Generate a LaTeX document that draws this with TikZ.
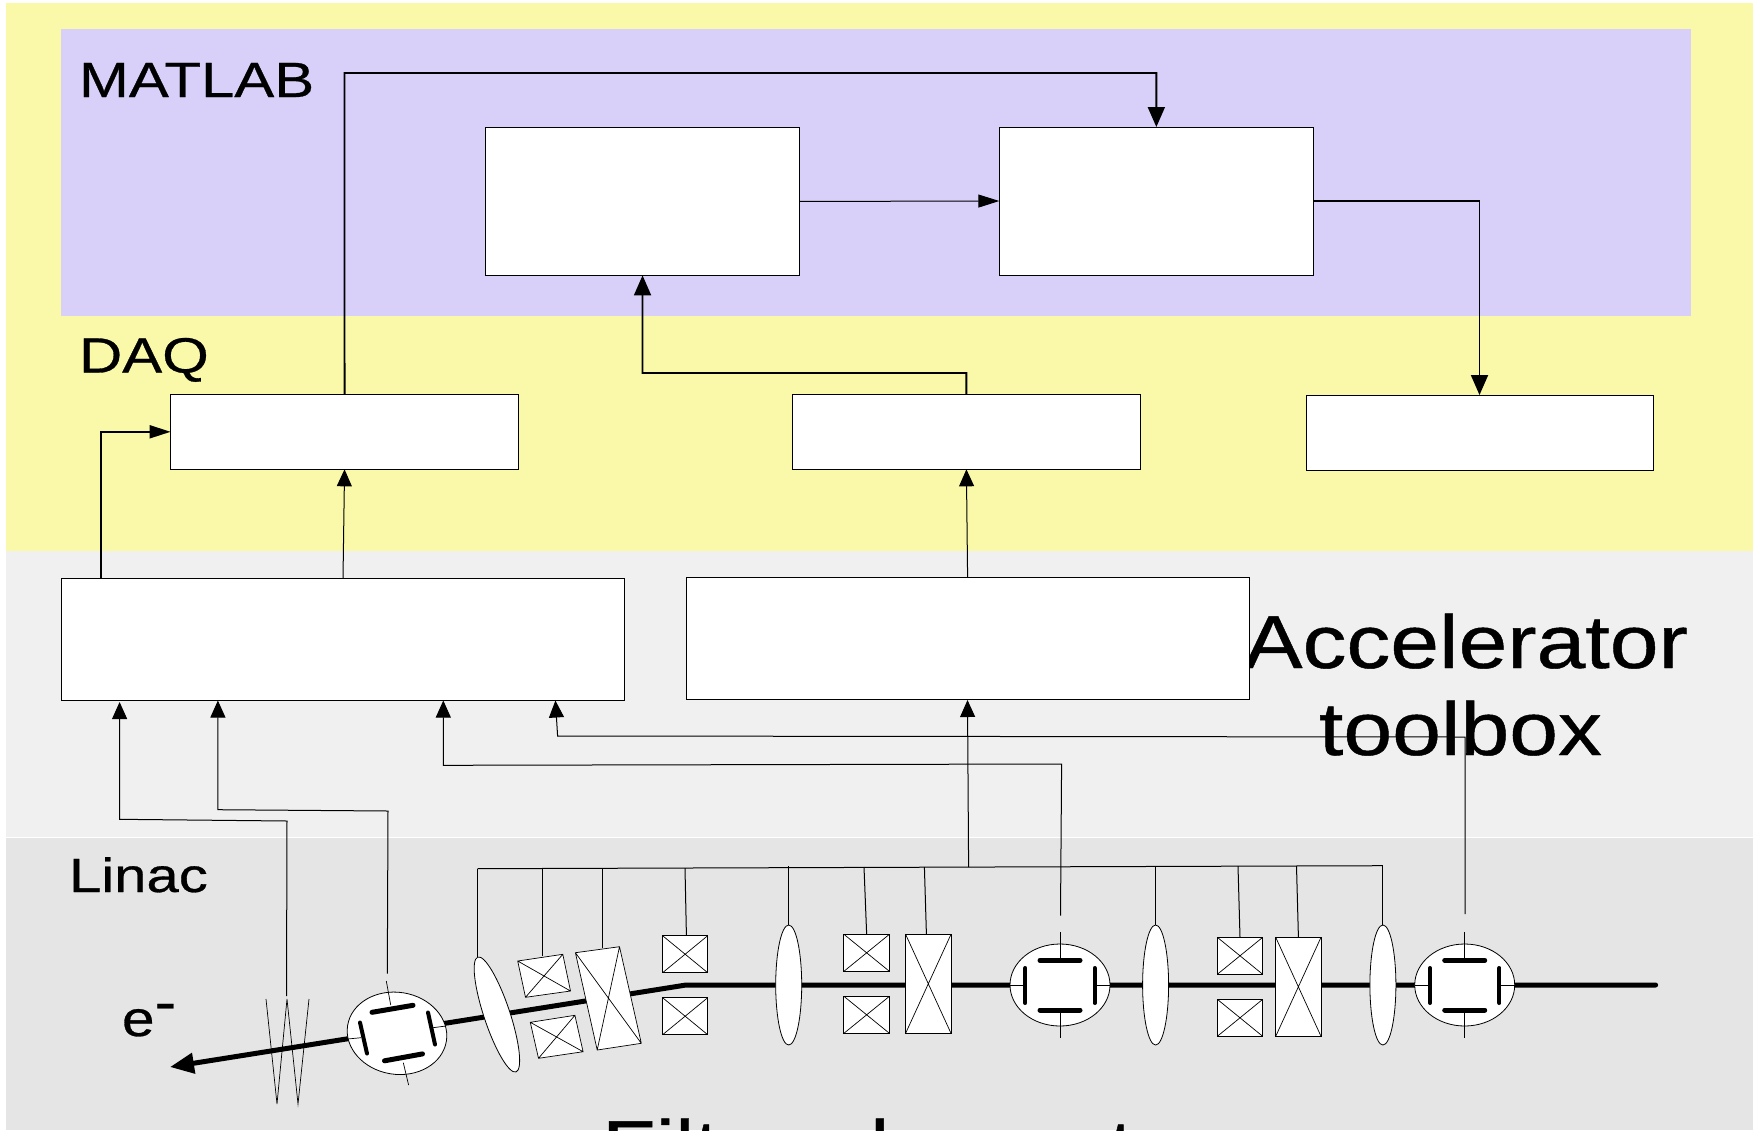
\documentclass[tikz,border=0pt]{standalone}
\usepackage{fontspec}
\usetikzlibrary{arrows.meta,shapes.geometric}
\setmainfont{Liberation Sans}[FakeStretch=1.17,FakeBold=0.6]
\newfontfamily\labfont{Liberation Sans}[FakeStretch=1.21,FakeBold=0.6]
\definecolor{yel}{HTML}{F9F9A9}
\definecolor{pur}{HTML}{D9D0FA}
\definecolor{gra}{HTML}{F0F0F0}
\definecolor{grb}{HTML}{E5E5E5}
\tikzset{
 wbox/.style={draw=black,fill=white,line width=1pt,inner sep=0pt,outer sep=0pt},
 wire/.style={draw=black,line width=1pt},
 hvy/.style={draw=black,line width=1.9pt},
 tipb/.style={-{Triangle[length=20pt,width=17pt]}},
 tips/.style={-{Triangle[length=17pt,width=15pt]}},
 tiph/.style={-{Triangle[length=21pt,width=13pt]}},
 lensshape/.style={ellipse,draw=black,fill=white,line width=.8pt,inner sep=0pt,outer sep=0pt,minimum width=26pt,minimum height=120pt},
 bpmshape/.style={ellipse,draw=black,fill=white,line width=.8pt,inner sep=0pt,outer sep=0pt,minimum width=100pt,minimum height=82pt},
 plate/.style={draw=black,line width=5pt,line cap=round},
 thin1/.style={draw=black,line width=.7pt},
 lab/.style={inner sep=0pt,outer sep=0pt,anchor=base west},
}
% box from corner coordinates: name, x1, y1, x2, y2
\newcommand{\xbox}[5]{\node[wbox,minimum width={(#4-#2)*1pt},minimum height={(#5-#3)*1pt}] (#1) at ({(#2+#4)/2},{(#3+#5)/2}) {};}
% crossed upright box
\newcommand{\xcoil}[5]{\xbox{#1}{#2}{#3}{#4}{#5}
 \draw[thin1] (#1.north west)--(#1.south east) (#1.north east)--(#1.south west);}
% crossed polygon by four corners
\newcommand{\pcoil}[4]{\draw[thin1,fill=white] #1--#2--#3--#4--cycle #1--#3 #2--#4;}
% upright BPM: name, x
\newcommand{\xbpm}[2]{\node[bpmshape] (#1) at (#2,984) {};
 \draw[thin1] (#2,931)--(#1.north) (#2,959)--(#1.north) (#2,1009)--(#2,1037);
 \draw[thin1] (#1.west)--++(15,0) (#1.east)--++(-15,0);
 \draw[plate,line width=5pt] (#2-20,959.3)--(#2+20,959.3) (#2-20,1009)--(#2+20,1009);
 \draw[plate,line width=4pt] (#2-34.7,967)--(#2-34.7,1002) (#2+34.7,967)--(#2+34.7,1002);}
\begin{document}
\begin{tikzpicture}[x=1pt,y=-1pt]
\useasboundingbox (0,0) rectangle (1758,1130);
\fill[white] (0,0) rectangle (1758,1130);
% bands
\fill[yel] (6,3) rectangle (1753,551);
\fill[pur] (61,29) rectangle (1691,316);
\fill[gra] (6,551) rectangle (1753,837);
\fill[grb] (6,838) rectangle (1753,1130);
% labels
\node[lab,font=\labfont\fontsize{49.5}{52}\selectfont] (tm) at (79,97) {MATLAB};
\node[lab,font=\labfont\fontsize{49.5}{52}\selectfont] (td) at (79,372.5) {DAQ};
% boxes
\xbox{mone}{485.4}{127.5}{799.7}{275.4}
\xbox{mtwo}{999.3}{127}{1313.4}{275}
\xbox{done}{170.6}{394.3}{518.5}{469.3}
\xbox{dtwo}{792.4}{394.3}{1140.4}{469.3}
\xbox{dthree}{1306}{395}{1653}{470.4}
% upper connectors
\draw[hvy,tipb] (done.north) -- (344.5,73) -| (mtwo.north);
\draw[wire,tiph] (mone.east) -- (mtwo.west);
\draw[hvy,tipb] (mtwo.east) -| (dthree.north);
\draw[hvy,tipb] (dtwo.north) |- (642.5,373) -- (mone.south);
\begin{scope}[yshift=-1pt]
\node[lab,font=\labfont\fontsize{48}{50}\selectfont] (tl) at (69,891) {Linac};
\node[lab,font=\fontsize{50}{50}\selectfont] (te) at (122,1035) {e\raisebox{15pt}{\fontsize{56}{56}\selectfont -}};
\node[lab,font=\fontsize{75}{80}\selectfont] (ta) at (1244,667) {Accelerator};
\node[lab,font=\fontsize{75}{80}\selectfont] (tt) at (1319,754) {toolbox};
\node[lab,font=\fontsize{75}{80}\selectfont] (tf) at (602,1172) {Filter element};
\xbox{tone}{61.2}{577.3}{624}{699.3}
\xbox{ttwo}{686}{576.7}{1249.4}{698.7}
\coordinate (tau) at (101,577.3);
\draw[hvy,tiph] (tau) |- (done.west);
\coordinate (tbu) at (343,577.3);
\draw[wire,tips] (tbu) -- (done.south);
\coordinate (tcu) at (967.6,576.7);
\draw[wire,tips] (tcu) -- (dtwo.south);
% lower connector ends
\coordinate (ia) at (119.6,701);
\coordinate (ib) at (217.9,699.5);
\coordinate (ic) at (443.3,699.5);
\coordinate (id) at (555.4,699.5);
\coordinate (ie) at (967.5,699);
\coordinate (wa) at (286.5,995);
\coordinate (wb) at (387.3,972.7);
\coordinate (wc) at (1060.5,914.7);
\coordinate (wd) at (1465,913);
\coordinate (bl) at (477.5,867.7);
\coordinate (bm) at (968.6,866);
\coordinate (br) at (1382.9,864.7);
\draw[wire,tips] (wa) -- (287,820) -- (119.6,818.3) -- (ia);
\draw[wire,tips] (wb) -- (388,810) -- (217.9,808.7) -- (ib);
\draw[wire,tips] (wc) -- (1061.6,763) -- (443.3,764.3) -- (ic);
\draw[wire,tips] (wd) -- (1465,736) -- (557.6,735) -- (id);
\draw[wire,tips] (bm) -- (ie);
\draw[wire] (bl) -- (br);
% beam
\coordinate (bs) at (1655.6,984);
\coordinate (bk) at (686,984);
\coordinate (bt) at (170,1066);
\draw[draw=black,line width=5pt,line cap=round,line join=round,-{Triangle[length=24pt,width=20pt]}] (bs) -- (bk) -- (bt);
% zigzag element
\draw[thin1] (266,998) -- (277,1103) -- (287,998) -- (298,1103) -- (309,998);
% rotated section
\node[lensshape,rotate=18.4,minimum height=121pt] (lone) at (496.9,1013.5) {};
\pcoil{(517.7,960)}{(562.8,953.3)}{(570.5,990)}{(525.5,996.3)}
\pcoil{(530.3,1021.3)}{(574.9,1014.3)}{(583.1,1050.7)}{(538.5,1057.3)}
\pcoil{(575.4,951.7)}{(619.5,945.7)}{(641.3,1042.3)}{(597.2,1049)}
\xcoil{cta}{662.6}{934.7}{707.7}{971.7}
\xcoil{ctb}{662.6}{996.7}{707.7}{1033.7}
% rotated BPM
\node[bpmshape,rotate=-9] (bzero) at (397,1032.3) {};
\draw[thin1] (386.3,980)--(390.7,1004) (403.3,1061.7)--(408.6,1084) (347.6,1038)--(361,1036.7) (432.9,1026.7)--(446,1025);
\draw[plate] (372,1011.3)--(413,1004.3) (384.5,1059.8)--(422.5,1052.9);
\draw[plate,line width=4pt] (360,1021.5)--(367,1052.5) (428,1011.5)--(435,1043.5);
% straight section
\node[lensshape] (ltwo) at (788.7,984) {};
\xcoil{cua}{843.9}{933.3}{889.4}{970.3}
\xcoil{cub}{843.9}{995.3}{889.4}{1032.3}
\xcoil{qua}{905.6}{933.3}{951}{1032.3}
\xbpm{bone}{1060}
\node[lensshape] (lthree) at (1155.6,984) {};
\xcoil{cva}{1217.3}{936.3}{1262.7}{973.3}
\xcoil{cvb}{1217.3}{998.3}{1262.7}{1035.3}
\xcoil{qvb}{1275.7}{936.3}{1321}{1035.3}
\node[lensshape] (lfour) at (1382.9,984) {};
\xbpm{btwo}{1464.7}
% drops
\coordinate (da) at (542.4,867);
\coordinate (db) at (602,867);
\coordinate (dc) at (685,867);
\coordinate (dd) at (788.7,865);
\coordinate (de) at (864,866);
\coordinate (df) at (924.4,866);
\coordinate (dg) at (1155.6,865);
\coordinate (dh) at (1238,865);
\coordinate (di) at (1296.5,865);
\draw[wire] (bl) -- (477.5,956);
\draw[wire] (da) -- (542.4,955);
\draw[wire] (db) -- (602,946.7);
\draw[wire] (dc) -- (686.4,934);
\draw[wire] (dd) -- (ltwo.north);
\draw[wire] (de) -- (cua.north);
\draw[wire] (df) -- (926.4,933);
\draw[wire] (dg) -- (lthree.north);
\draw[wire] (dh) -- (cva.north);
\draw[wire] (di) -- (1298.4,936);
\draw[wire] (br) -- (lfour.north);
\end{scope}
\end{tikzpicture}
\end{document}
